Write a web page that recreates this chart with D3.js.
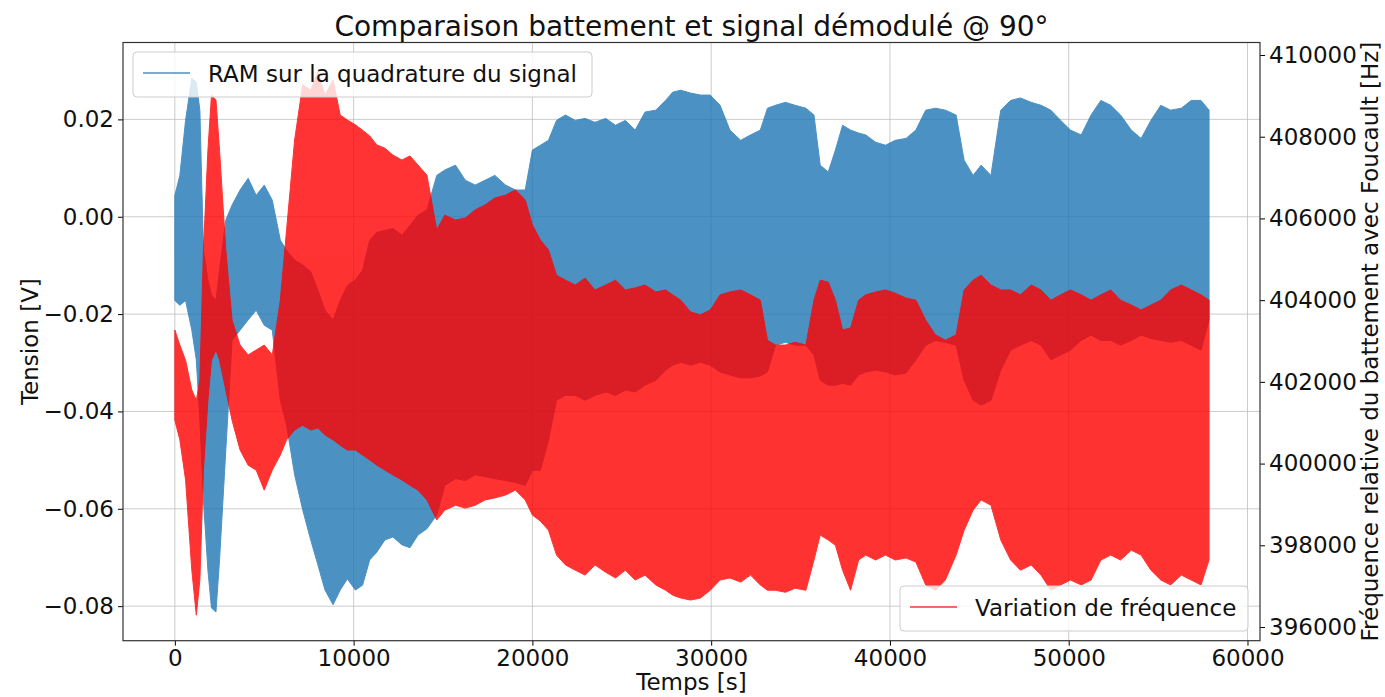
<!DOCTYPE html>
<html>
<head>
<meta charset="utf-8">
<script src="https://cdn.jsdelivr.net/npm/d3@7"></script>
<style>
  body { margin: 0; background: #fff; }
</style>
</head>
<body>
<script>
// envelope of the two signals (min / max of the fast oscillation)
const time = [
  0, 280, 600, 950, 1200, 1400, 1600, 1850, 2050, 2300, 2500, 2850,
  3200, 3650, 4100, 4550, 5000, 5450,
  5900, 6250, 6700, 7150, 7600, 8000, 8400, 8850, 9250, 9650, 10100, 10500, 10900, 11300, 11750, 12200, 12700, 13150, 13600, 14100,
  14650, 15100, 15700, 16250, 16800, 17350, 17900, 18500, 19050, 19600,
  20000, 20450, 20900, 21350, 21850, 22400, 22950, 23500, 24100, 24650, 25200, 25750,
  26300, 26900, 27450, 27850, 28300, 28850, 29400, 29950,
  30500, 31050, 31650, 32200, 32750,
  33150, 33600, 34150, 34700, 35300, 35750,
  36100, 36550, 36950, 37350, 37800,
  38250, 38650, 39200, 39750, 40300, 40900, 41450,
  42000, 42550, 43100, 43700,
  44150, 44650, 45100, 45650,
  46200, 46750, 47300, 47900, 48450, 49000,
  49550, 50100, 50700, 51250, 51800,
  52350, 52900, 53500, 54050, 54600,
  55150, 55700, 56300, 56850, 57400,
  57850
];

// RAM sur la quadrature du signal [V]
const ramHi = [
  0.0044, 0.0085, 0.0198, 0.0285, 0.0276, 0.0219, -0.0069, -0.0130, -0.0161, -0.0172, -0.0110, -0.0007,
  0.0024, 0.0055, 0.0079, 0.0044, 0.0065, 0.0034,
  -0.0048, -0.0069, -0.0089, -0.0099, -0.0113, -0.0151, -0.0192, -0.0212, -0.0172, -0.0141, -0.0130, -0.0110, -0.0048, -0.0032, -0.0028, -0.0024, -0.0038, -0.0018, 0.0003, 0.0014,
  0.0085, 0.0096, 0.0106, 0.0075, 0.0065, 0.0075, 0.0085, 0.0065, 0.0055, 0.0055,
  0.0137, 0.0147, 0.0157, 0.0198, 0.0209, 0.0198, 0.0202, 0.0194, 0.0202, 0.0188, 0.0198, 0.0178,
  0.0215, 0.0219, 0.0239, 0.0256, 0.0260, 0.0254, 0.0250, 0.0250,
  0.0229, 0.0178, 0.0157, 0.0168, 0.0178,
  0.0223, 0.0229, 0.0235, 0.0229, 0.0223, 0.0209,
  0.0106, 0.0092, 0.0137, 0.0188, 0.0178,
  0.0172, 0.0168, 0.0153, 0.0147, 0.0157, 0.0161, 0.0178,
  0.0219, 0.0223, 0.0219, 0.0209,
  0.0116, 0.0085, 0.0106, 0.0085,
  0.0219, 0.0239, 0.0244, 0.0235, 0.0229, 0.0219,
  0.0198, 0.0178, 0.0168, 0.0209, 0.0239,
  0.0229, 0.0209, 0.0178, 0.0161, 0.0198,
  0.0229, 0.0219, 0.0223, 0.0239, 0.0239,
  0.0219
];
const ramLo = [
  -0.0172, -0.0182, -0.0172, -0.0233, -0.0294, -0.0418, -0.0583, -0.0726, -0.0804, -0.0812, -0.0705, -0.0480,
  -0.0254, -0.0233, -0.0212, -0.0192, -0.0223, -0.0233,
  -0.0377, -0.0428, -0.0530, -0.0602, -0.0664, -0.0715, -0.0767, -0.0797, -0.0767, -0.0744, -0.0767, -0.0757, -0.0705, -0.0689, -0.0664, -0.0658, -0.0674, -0.0680, -0.0654, -0.0641,
  -0.0613, -0.0552, -0.0538, -0.0542, -0.0530, -0.0534, -0.0538, -0.0542, -0.0546, -0.0552,
  -0.0521, -0.0521, -0.0459, -0.0377, -0.0367, -0.0367, -0.0377, -0.0367, -0.0360, -0.0367, -0.0356, -0.0360,
  -0.0346, -0.0336, -0.0315, -0.0305, -0.0299, -0.0305, -0.0299, -0.0305,
  -0.0319, -0.0325, -0.0331, -0.0331, -0.0327,
  -0.0319, -0.0264, -0.0258, -0.0264, -0.0264, -0.0284,
  -0.0336, -0.0346, -0.0346, -0.0342, -0.0346,
  -0.0325, -0.0319, -0.0315, -0.0319, -0.0325, -0.0321, -0.0294,
  -0.0264, -0.0254, -0.0258, -0.0264,
  -0.0336, -0.0377, -0.0387, -0.0377,
  -0.0315, -0.0274, -0.0264, -0.0254, -0.0264, -0.0294,
  -0.0284, -0.0274, -0.0254, -0.0243, -0.0254,
  -0.0254, -0.0264, -0.0254, -0.0243, -0.0250,
  -0.0254, -0.0258, -0.0254, -0.0264, -0.0274,
  -0.0212
];

// Variation de fréquence [Hz]
const freqHi = [
  403270, 402900, 402530, 401800, 401550, 402040, 405230, 407670, 409020, 408900, 407670, 405230,
  403510, 402900, 402660, 402780, 402900, 402660,
  404000, 405720, 407920, 409270, 409140, 409580, 409020, 409390, 408530, 408410, 408290, 408160, 408020, 407800, 407720, 407550, 407430, 407530, 407310, 407060,
  405720, 406080, 405960, 406010, 406210, 406330, 406500, 406570, 406700, 406450,
  405840, 405470, 405230, 404610, 404490, 404370, 404540, 404250, 404370, 404490, 404250, 404300,
  404370, 404200, 404250, 404130, 404000, 403710, 403640, 403760,
  404130, 404200, 404250, 404130, 404000,
  403020, 402900, 402900, 402970, 402900, 404000,
  404490, 404440, 404000, 403270, 403320,
  404000, 404130, 404200, 404250, 404170, 404050, 404000,
  403510, 403150, 403020, 403150,
  404250, 404490, 404610, 404370,
  404250, 404250, 404130, 404370, 404250, 404000,
  404130, 404250, 404130, 404000, 404130,
  404250, 404000, 403880, 403760, 403880,
  404000, 404250, 404370, 404250, 404130,
  404000
];
const freqLo = [
  401060, 400580, 399600, 397390, 396290, 397150, 399840, 401550, 402530, 402780, 402530, 401800,
  401060, 400330, 399960, 399840, 399350, 399840,
  400210, 400580, 400820, 400940, 400820, 400870, 400700, 400580, 400450, 400330, 400330, 400210, 400090, 399960, 399840, 399720, 399600, 399470, 399350, 399110,
  398620, 398860, 398980, 398910, 398980, 399110, 399160, 399230, 399350, 399110,
  398740, 398590, 398370, 397760, 397520, 397390, 397270, 397520, 397340, 397200, 397390, 397150,
  397270, 397030, 396900, 396780, 396710, 396660, 396710, 396900,
  397150, 397200, 397100, 397270, 397030,
  396900, 396900, 396850, 396950, 396900, 397640,
  398250, 398130, 398000, 397390, 396900,
  397640, 397760, 397640, 397760, 397640, 397690, 397590,
  397030, 396900, 397150, 397760,
  398370, 398860, 399110, 398980,
  398130, 397640, 397390, 397520, 397270, 396900,
  397030, 397150, 397030, 397150, 397640,
  397760, 397640, 397880, 397760, 397390,
  397150, 397030, 397270, 397150, 397030,
  397640
];

const xTicks = [0, 10000, 20000, 30000, 40000, 50000, 60000];
const vTicks = [-0.08, -0.06, -0.04, -0.02, 0.00, 0.02];
const fTicks = [396000, 398000, 400000, 402000, 404000, 406000, 408000, 410000];

const W = 1385, H = 697;
const box = { left: 123, right: 1260, top: 42.5, bottom: 640.7 };
const font = 'DejaVu Sans';
const fs = 23;

const svg = d3.select('body').append('svg')
  .attr('width', W)
  .attr('height', H)
  .style('font-family', font);

const x = d3.scaleLinear().domain([-2900, 60700]).range([box.left, box.right]);
const yV = d3.scaleLinear().domain([-0.0871, 0.0358]).range([box.bottom, box.top]);
const yF = d3.scaleLinear().domain([395665, 410306]).range([box.bottom, box.top]);

svg.append('clipPath').attr('id', 'plot')
  .append('rect')
  .attr('x', box.left).attr('y', box.top)
  .attr('width', box.right - box.left).attr('height', box.bottom - box.top);

// grid
const grid = svg.append('g').attr('stroke', '#b0b0b0').attr('stroke-width', 0.8).attr('opacity', 0.8);
grid.selectAll('.gx').data(xTicks).join('line')
  .attr('x1', d => x(d)).attr('x2', d => x(d))
  .attr('y1', box.top).attr('y2', box.bottom);
grid.selectAll('.gy').data(vTicks).join('line')
  .attr('x1', box.left).attr('x2', box.right)
  .attr('y1', d => yV(d)).attr('y2', d => yV(d));

// signals
const ram = time.map((t, i) => ({ t, lo: ramLo[i], hi: ramHi[i] }));
const freq = time.map((t, i) => ({ t, lo: freqLo[i], hi: freqHi[i] }));

const plot = svg.append('g').attr('clip-path', 'url(#plot)');

plot.append('path')
  .datum(ram)
  .attr('d', d3.area().x(d => x(d.t)).y0(d => yV(d.lo)).y1(d => yV(d.hi)))
  .attr('fill', '#1f77b4')
  .attr('stroke', '#1f77b4')
  .attr('stroke-width', 1)
  .attr('opacity', 0.8);

plot.append('path')
  .datum(freq)
  .attr('d', d3.area().x(d => x(d.t)).y0(d => yF(d.lo)).y1(d => yF(d.hi)))
  .attr('fill', '#ff0000')
  .attr('stroke', '#ff0000')
  .attr('stroke-width', 1)
  .attr('opacity', 0.8);

// axes
const styleAxis = g => {
  g.select('.domain').remove();
  g.selectAll('.tick line').attr('stroke', '#000').attr('stroke-width', 1);
  g.selectAll('.tick text').attr('fill', '#111').style('font-size', fs + 'px').style('font-family', font);
};

svg.append('g')
  .attr('transform', `translate(0,${box.bottom})`)
  .call(d3.axisBottom(x).tickValues(xTicks).tickFormat(d3.format('d')).tickSize(5).tickPadding(4))
  .call(styleAxis);

svg.append('g')
  .attr('transform', `translate(${box.left},0)`)
  .call(d3.axisLeft(yV).tickValues(vTicks).tickFormat(d3.format('.2f')).tickSize(5).tickPadding(4))
  .call(styleAxis);

svg.append('g')
  .attr('transform', `translate(${box.right},0)`)
  .call(d3.axisRight(yF).tickValues(fTicks).tickFormat(d3.format('d')).tickSize(5).tickPadding(4))
  .call(styleAxis);

// spines
svg.append('rect')
  .attr('x', box.left).attr('y', box.top)
  .attr('width', box.right - box.left).attr('height', box.bottom - box.top)
  .attr('fill', 'none').attr('stroke', '#333').attr('stroke-width', 1.2);

// labels
svg.append('text')
  .attr('x', (box.left + box.right) / 2).attr('y', 36)
  .attr('text-anchor', 'middle').style('font-size', '28px').attr('fill', '#111')
  .text('Comparaison battement et signal démodulé @ 90°');

svg.append('text')
  .attr('x', (box.left + box.right) / 2).attr('y', 690)
  .attr('text-anchor', 'middle').style('font-size', fs + 'px').attr('fill', '#111')
  .text('Temps [s]');

svg.append('text')
  .attr('transform', `translate(38,${(box.top + box.bottom) / 2}) rotate(-90)`)
  .attr('text-anchor', 'middle').style('font-size', fs + 'px').attr('fill', '#111')
  .text('Tension [V]');

svg.append('text')
  .attr('transform', `translate(1378,${(box.top + box.bottom) / 2}) rotate(-90)`)
  .attr('text-anchor', 'middle').style('font-size', fs + 'px').attr('fill', '#111')
  .text('Fréquence relative du battement avec Foucault [Hz]');

// legends
const legend = (lx, ly, w, label, color) => {
  const g = svg.append('g').attr('transform', `translate(${lx},${ly})`);
  g.append('rect')
    .attr('width', w).attr('height', 45).attr('rx', 4)
    .attr('fill', '#fff').attr('fill-opacity', 0.8)
    .attr('stroke', '#cccccc').attr('stroke-width', 1);
  g.append('line')
    .attr('x1', 10).attr('x2', 57).attr('y1', 21).attr('y2', 21)
    .attr('stroke', color).attr('stroke-width', 1.5).attr('opacity', 0.8);
  g.append('text')
    .attr('x', 75).attr('y', 30)
    .style('font-size', fs + 'px').attr('fill', '#111')
    .text(label);
};
legend(133, 52, 459, 'RAM sur la quadrature du signal', '#1f77b4');
legend(900, 586, 348, 'Variation de fréquence', '#ff0000');
</script>
</body>
</html>
